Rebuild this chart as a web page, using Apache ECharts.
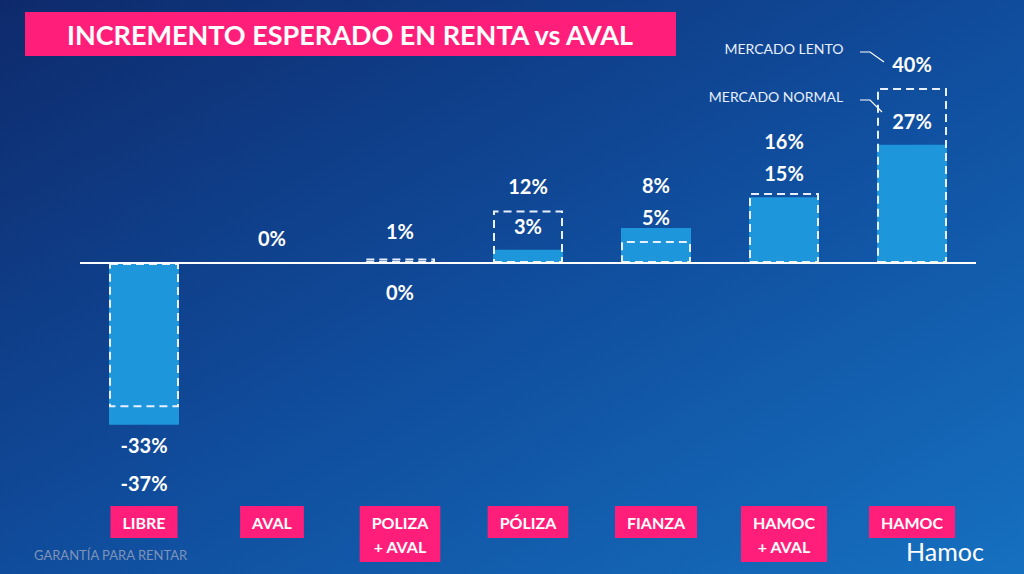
<!DOCTYPE html>
<html><head><meta charset="utf-8">
<script src="https://cdn.jsdelivr.net/npm/echarts@6/dist/echarts.min.js"></script>
<style>html,body{margin:0;padding:0}#c{width:1024px;height:574px}</style>
</head><body><div id="c"></div>
<script>
// categories and expected rent increase (%)
const categories = ['LIBRE', 'AVAL', 'POLIZA\n+ AVAL', 'PÓLIZA', 'FIANZA', 'HAMOC\n+ AVAL', 'HAMOC'];
const solidValues = [-37, 0, 0, 3, 8, 15, 27];
const dashedValues = [-33, 0, 1, 12, 5, 16, 40];

const chart = echarts.init(document.getElementById('c'), null, { renderer: 'svg' });

const labelFont = 'bold 20px Lato, "Open Sans", sans-serif';

function renderLabels(params, api) {
    const i = api.value(0);
    const hi = Math.max(solidValues[i], dashedValues[i]);
    const lo = Math.min(solidValues[i], dashedValues[i]);
    const x = api.coord([i, 0])[0];
    const y0 = api.coord([i, 0])[1];
    const yHi = api.coord([i, hi])[1];
    const yLo = api.coord([i, lo])[1];
    const items = [];
    const txt = (t, y) => items.push({ type: 'text', style: { text: t + '%', x: x, y: y, fill: '#fff', font: labelFont, align: 'center', verticalAlign: 'middle' } });
    if (lo < 0) {
        txt(hi, yLo + 20);
        txt(lo, yLo + 58);
    } else if (hi === lo) {
        txt(hi, yHi - 25);
    } else if (lo === 0) {
        txt(hi, yHi - 28);
        txt(lo, y0 + 29);
    } else {
        const lowY = yLo - 24;
        txt(lo, lowY);
        txt(hi, Math.min(yHi - 24, lowY - 32));
    }
    return { type: 'group', children: items };
}

chart.setOption({
    backgroundColor: new echarts.graphic.LinearGradient(0, 0, 1, 1, [
        { offset: 0, color: '#0e2a6c' },
        { offset: 0.5, color: '#104c9c' },
        { offset: 1, color: '#1670c0' }
    ]),
    grid: { left: 80, right: 48, top: 66, bottom: 136 },
    xAxis: {
        type: 'category', data: categories,
        axisLine: { show: false }, axisTick: { show: false },
        axisLabel: {
            margin: 68, color: '#fff', fontWeight: 'bold', fontSize: 16,
            fontFamily: 'Lato, "Open Sans", sans-serif', lineHeight: 24,
            backgroundColor: '#ff1f7a', padding: [4, 12, 4, 12], align: 'center', verticalAlign: 'top'
        }
    },
    yAxis: { type: 'value', min: -40, max: 45, show: false },
    series: [
        {
            type: 'bar', data: solidValues, barWidth: 70, barGap: '-100%', z: 2,
            itemStyle: { color: '#1e96dc' },
            markLine: {
                symbol: 'none', silent: true, label: { show: false },
                lineStyle: { color: '#fff', type: 'solid', width: 2 },
                data: [{ yAxis: 0 }]
            }
        },
        {
            type: 'bar', data: dashedValues, barWidth: 70, z: 3,
            itemStyle: { color: 'rgba(0,0,0,0)', borderColor: '#e8f0ff', borderWidth: 2, borderType: [8, 5] }
        },
        {
            type: 'custom', data: categories.map((c, i) => [i]), renderItem: renderLabels, z: 4
        }
    ],
    graphic: [
        { type: 'rect', shape: { x: 25, y: 12, width: 651, height: 44 }, style: { fill: '#ff1f7a' } },
        { type: 'text', x: 350, y: 34, style: { text: 'INCREMENTO ESPERADO EN RENTA vs AVAL', fill: '#fff', font: 'bold 27px Lato, "Open Sans", sans-serif', align: 'center', verticalAlign: 'middle' } },
        { type: 'text', x: 784, y: 48, style: { text: 'MERCADO LENTO', fill: '#e8f0ff', font: '14px Lato, sans-serif', align: 'center', verticalAlign: 'middle' } },
        { type: 'polyline', shape: { points: [[860, 52], [870, 52], [884, 62]] }, style: { stroke: '#fff', lineWidth: 1.2, fill: null } },
        { type: 'text', x: 776, y: 96, style: { text: 'MERCADO NORMAL', fill: '#e8f0ff', font: '14px Lato, sans-serif', align: 'center', verticalAlign: 'middle' } },
        { type: 'polyline', shape: { points: [[860, 100], [870, 100], [882, 112]] }, style: { stroke: '#fff', lineWidth: 1.2, fill: null } },
        { type: 'text', x: 34, y: 555, style: { text: 'GARANTÍA PARA RENTAR', fill: '#7f93b8', font: '13px Lato, sans-serif', verticalAlign: 'middle' } },
        { type: 'text', x: 945, y: 551, style: { text: 'Hamoc', fill: '#fff', font: '25px Lato, sans-serif', align: 'center', verticalAlign: 'middle' } }
    ]
});
</script>
</body></html>
